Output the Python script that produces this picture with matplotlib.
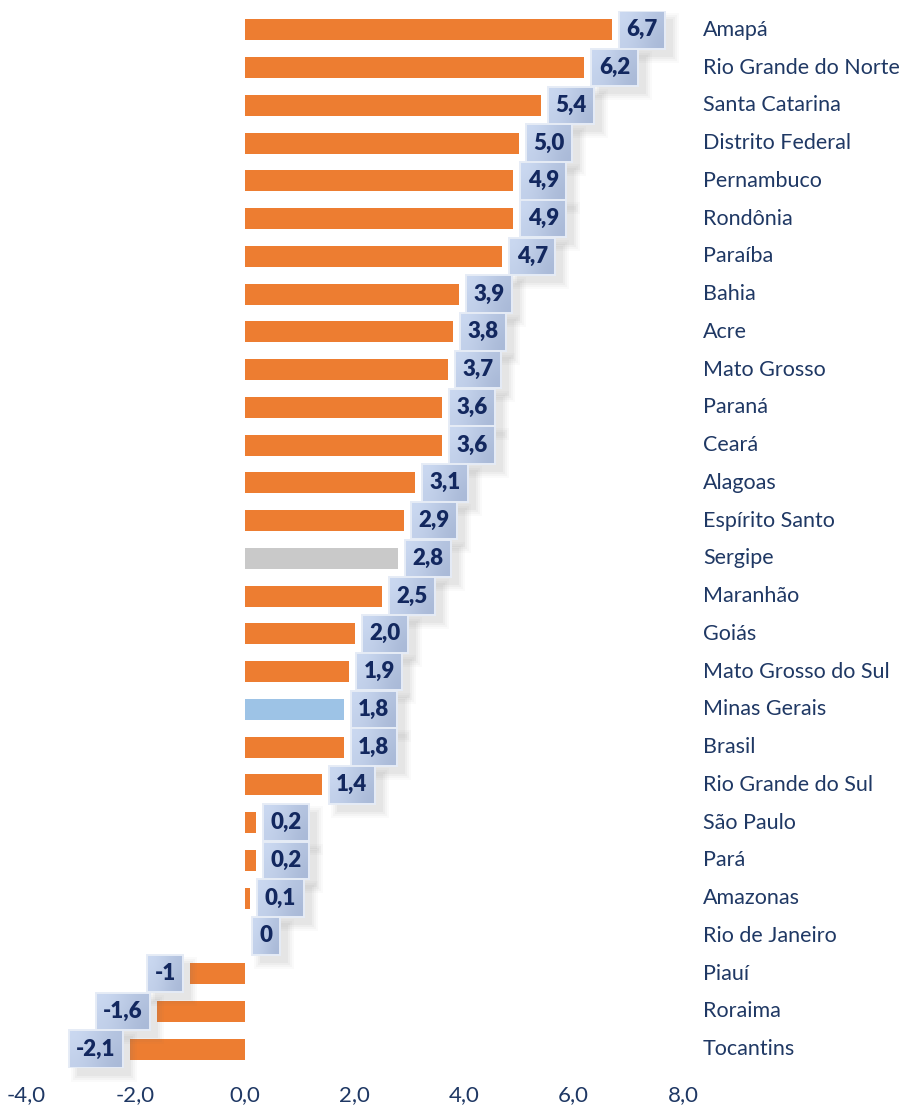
import matplotlib
matplotlib.use('Agg')
import matplotlib.pyplot as plt
from matplotlib.patches import Rectangle
from matplotlib.colors import LinearSegmentedColormap
import numpy as np

states = ["Amapá", "Rio Grande do Norte", "Santa Catarina", "Distrito Federal",
          "Pernambuco", "Rondônia", "Paraíba", "Bahia", "Acre", "Mato Grosso",
          "Paraná", "Ceará", "Alagoas", "Espírito Santo", "Sergipe", "Maranhão",
          "Goiás", "Mato Grosso do Sul", "Minas Gerais", "Brasil",
          "Rio Grande do Sul", "São Paulo", "Pará", "Amazonas", "Rio de Janeiro",
          "Piauí", "Roraima", "Tocantins"]
values = [6.7, 6.2, 5.4, 5.0, 4.9, 4.9, 4.7, 3.9, 3.8, 3.7, 3.6, 3.6, 3.1, 2.9,
          2.8, 2.5, 2.0, 1.9, 1.8, 1.8, 1.4, 0.2, 0.2, 0.1, 0.0, -1.0, -1.6, -2.1]
value_labels = ["6,7", "6,2", "5,4", "5,0", "4,9", "4,9", "4,7", "3,9", "3,8", "3,7",
                "3,6", "3,6", "3,1", "2,9", "2,8", "2,5", "2,0", "1,9", "1,8", "1,8",
                "1,4", "0,2", "0,2", "0,1", "0", "-1", "-1,6", "-2,1"]
x_ticks = [-4, -2, 0, 2, 4, 6, 8]
x_tick_labels = ["-4,0", "-2,0", "0,0", "2,0", "4,0", "6,0", "8,0"]

ORANGE = "#ED7D31"
highlight = {"Sergipe": "#C9C9C9", "Minas Gerais": "#9DC3E6"}
NAVY = "#1F3864"
NAVY_BOLD = "#13285F"
FONT = "Lato"

W, H = 906, 1110
fig = plt.figure(figsize=(W / 100, H / 100), dpi=100)
ax_left, ax_right, ax_top, ax_bot = 26, 683, 11, 1068
ax = fig.add_axes([ax_left / W, 1 - ax_bot / H, (ax_right - ax_left) / W, (ax_bot - ax_top) / H])

n = len(states)
y = np.arange(n)
colors = [highlight.get(s, ORANGE) for s in states]
ax.barh(y, values, height=0.56, color=colors, zorder=2)
ax.set_xlim(-4, 8)
ax.set_ylim(n - 0.5, -0.5)
ax.set_xticks(x_ticks)
ax.set_xticklabels(x_tick_labels, fontsize=16, color=NAVY, family=FONT)
ax.set_yticks([])
ax.tick_params(axis='x', length=0, pad=12)
for sp in ax.spines.values():
    sp.set_visible(False)

# category labels on the right
for yi, s in zip(y, states):
    ax.text(8.365, yi, s, ha='left', va='center', fontsize=15.5, color=NAVY,
            family=FONT, clip_on=False)

# data labels in boxes
sx = (ax_right - ax_left) / 12.0          # px per x unit
sy = (ax_bot - ax_top) / n                # px per row
renderer = fig.canvas.get_renderer()
cmap = LinearSegmentedColormap.from_list("box", ["#CBD9F1", "#A9B9D7"])
grad = np.array([[0.0, 0.35, 0.7], [0.25, 0.6, 1.0]])
gap_px = 7
pad_px = 7.5
box_h = 37.5 / sy
for yi, v, lab in zip(y, values, value_labels):
    t = ax.text(0, yi, lab, ha='center', va='center', fontsize=16, fontweight='heavy',
                color=NAVY_BOLD, family=FONT, zorder=6)
    ext = t.get_window_extent(renderer)
    bw = (ext.width + 2 * pad_px) / sx
    if v >= 0:
        x0 = v + gap_px / sx
    else:
        x0 = v - gap_px / sx - bw
    t.set_x(x0 + bw / 2)
    # soft shadow
    for off, grow, a in [(8, 6, 0.03), (8, 4, 0.04), (8, 2, 0.05), (8, 0, 0.06)]:
        ax.add_patch(Rectangle((x0 + (off - grow) / sx, yi - box_h / 2 + (off - grow) / sy),
                               bw + 2 * grow / sx, box_h + 2 * grow / sy,
                               facecolor='#6F6F6F', edgecolor='none', alpha=a,
                               zorder=3, clip_on=False))
    im = ax.imshow(grad, cmap=cmap, interpolation='bicubic', aspect='auto',
                   extent=(x0, x0 + bw, yi + box_h / 2, yi - box_h / 2), zorder=4)
    rect = Rectangle((x0, yi - box_h / 2), bw, box_h, facecolor='none',
                     edgecolor='#E6ECF6', linewidth=1.4, zorder=5)
    ax.add_patch(rect)
    im.set_clip_path(rect)

ax.set_xlim(-4, 8)
ax.set_ylim(n - 0.5, -0.5)
ax.set_aspect('auto')

fig.savefig("out.png", dpi=100)
